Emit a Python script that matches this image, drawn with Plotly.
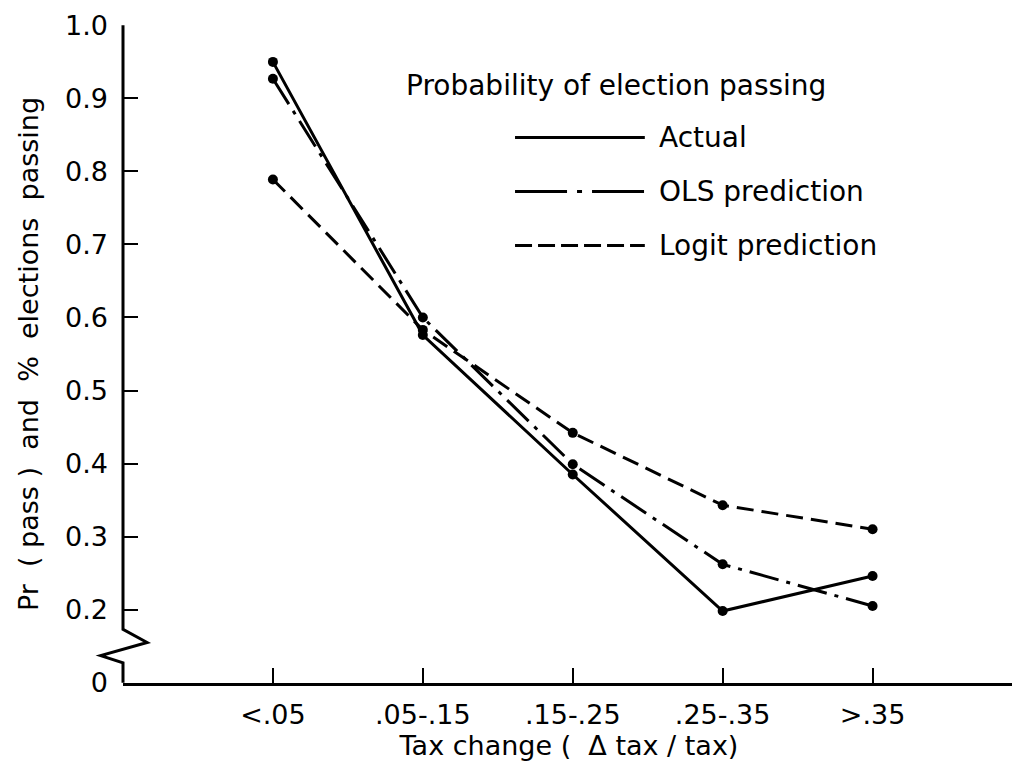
import plotly.graph_objects as go

# ---- data ----
categories = ["<.05", ".05-.15", ".15-.25", ".25-.35", ">.35"]
actual = [0.950, 0.576, 0.385, 0.198, 0.246]
ols_pred = [0.927, 0.600, 0.399, 0.262, 0.205]
logit_pred = [0.789, 0.583, 0.442, 0.343, 0.310]

y_tick_vals = [0.1, 0.2, 0.3, 0.4, 0.5, 0.6, 0.7, 0.8, 0.9, 1.0]
y_tick_text = ["0", "0.2", "0.3", "0.4", "0.5", "0.6", "0.7", "0.8", "0.9", "1.0"]

legend_title = "Probability of election passing"
series_names = ["Actual", "OLS prediction", "Logit prediction"]

FONT = "DejaVu Sans"
NB = "\u00a0"
x_idx = list(range(len(categories)))

fig = go.Figure()
styles = [
    (actual, "solid"),
    (ols_pred, "30px,8px,4px,8px"),
    (logit_pred, "17px,8px"),
]
for (vals, dash), name in zip(styles, series_names):
    fig.add_trace(go.Scatter(
        x=x_idx, y=vals, mode="lines+markers", name=name,
        line=dict(color="black", width=3, dash=dash),
        marker=dict(color="black", size=10),
        showlegend=False,
    ))

# axis break on the y axis (decoration)
fig.add_shape(type="path", xref="paper", yref="y",
              path="M 0,1.0 L 0,0.173 L 0.027,0.155 L -0.025,0.137 L 0,0.127 L 0,0.1",
              line=dict(color="black", width=3))

# manual legend
leg_y = [0.829, 0.747, 0.665]
leg_dash = ["solid", "52px,10px,5px,10px", "17px,6px"]
fig.add_annotation(xref="paper", yref="paper", x=0.315, y=0.908, text=legend_title,
                   showarrow=False, xanchor="left", yanchor="middle",
                   font=dict(family=FONT, size=28, color="black"))
for yy, d, name in zip(leg_y, leg_dash, series_names):
    fig.add_shape(type="line", xref="paper", yref="paper", x0=0.4395, x1=0.585, y0=yy, y1=yy,
                  line=dict(color="black", width=3, dash=d))
    fig.add_annotation(xref="paper", yref="paper", x=0.599, y=yy, text=name,
                       showarrow=False, xanchor="left", yanchor="middle",
                       font=dict(family=FONT, size=28, color="black"))

x_title = f"Tax{NB}change{NB}({NB}{NB}\u0394{NB}tax{NB}/{NB}tax)"
y_title = f"Pr{NB}{NB}({NB}pass{NB}){NB}{NB}and{NB}{NB}%{NB}{NB}elections{NB}{NB}passing"

fig.update_layout(
    width=1020, height=776,
    margin=dict(l=115, r=13, t=17, b=101),
    paper_bgcolor="white", plot_bgcolor="white",
    font=dict(family=FONT, color="black"),
    xaxis=dict(
        range=[-1.0, 4.95], tickvals=x_idx, ticktext=categories,
        showgrid=False, zeroline=False, showline=True, linecolor="black", linewidth=3,
        ticks="inside", ticklen=15, tickwidth=2, tickcolor="black",
        tickfont=dict(family=FONT, size=27), ticklabelstandoff=6,
        automargin=False,
        title=dict(text=x_title, font=dict(family=FONT, size=27), standoff=5),
    ),
    yaxis=dict(
        range=[0.0995, 1.0005], tickvals=y_tick_vals, ticktext=y_tick_text,
        showgrid=False, zeroline=False, showline=False,
        ticks="inside", ticklen=15, tickwidth=2, tickcolor="black",
        tickfont=dict(family=FONT, size=27), ticklabelstandoff=14,
        ticklabeloverflow="allow", automargin=False,
        title=dict(text=y_title, font=dict(family=FONT, size=27), standoff=18),
    ),
)

fig.write_html("out.html")
